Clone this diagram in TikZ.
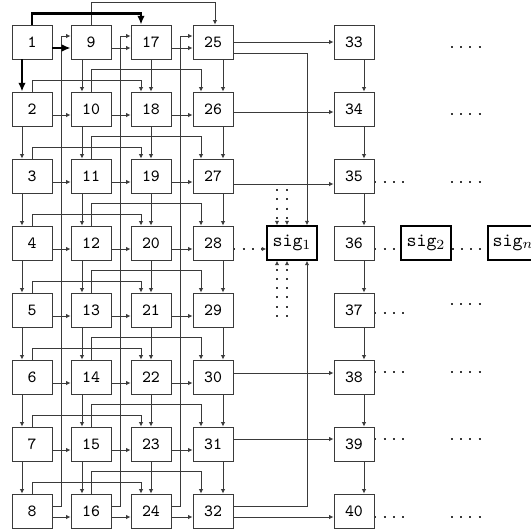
\documentclass[tikz,border=0pt]{standalone}
\usepackage{tikz}
\usetikzlibrary{arrows.meta, positioning, calc}
\definecolor{grayA}{HTML}{3A3A3A}
\tikzset{
  cell/.style={
    draw=grayA, line width=0.45pt, minimum width=20pt,
    minimum height=17pt, inner sep=0pt,
    font=\fontsize{8.5}{10}\selectfont\ttfamily
  },
  sigbox/.style={
    cell, draw=black, line width=0.75pt, minimum width=25pt,
    font=\fontsize{9.5}{12}\selectfont\ttfamily
  },
  arrow/.style={-{Latex[length=2.2pt, width=2.2pt]}, line width=0.45pt, draw=grayA},
  thickarrow/.style={-{Latex[length=4.4pt, width=3.8pt]}, line width=1.2pt},
  dotline/.style={line width=0.6pt, dash pattern=on 1pt off 3.6pt, draw=grayA},
  dotarrow/.style={dotline, -{Latex[length=2.2pt, width=2.2pt]}}
}

\begin{document}
\begin{tikzpicture}[x=0.5pt, y=-0.5pt]
  \useasboundingbox (0,0) rectangle (531,532);

  % cells, numbered down each column
  \foreach \c/\x in {1/32, 2/91, 3/151, 4/213, 5/354}
    \foreach \r in {1,...,8} {
      \pgfmathtruncatemacro\idx{8*(\c-1)+\r}
      \node[cell] (n\idx) at (\x, {42+67*(\r-1)}) {\idx};
    }
  \node[sigbox] (sig1) at (292,243) {sig$_1$};
  \node[sigbox] (sig2) at (426,243) {sig$_2$};
  \node[sigbox] (sign) at (513,243) {sig$_n$};

  % row arrows
  \foreach \r in {1,...,8} {
    \pgfmathtruncatemacro\na{\r+8}
    \pgfmathtruncatemacro\nb{\r+16}
    \pgfmathtruncatemacro\nc{\r+24}
    \ifnum\r>1
      \draw[arrow] ([yshift=-3pt]n\r.east) -- ([yshift=-3pt]n\na.west);
      \draw[arrow] (n\r.north) -- ++(0,-11) -| ([xshift=-5pt]n\nb.north);
      \draw[arrow] (n\na.north) -- ++(0,-22) -| ([xshift=-6pt]n\nc.north);
    \fi
    \draw[arrow] ([yshift=-3pt]n\na.east) -- ([yshift=-3pt]n\nb.west);
    \draw[arrow] ([yshift=-3pt]n\nb.east) -- ([yshift=-3pt]n\nc.west);
  }
  \draw[arrow] (n9.north) -- ++(0,-22) -| ([xshift=1pt]n25.north);

  % column arrows
  \foreach \c/\s in {1/-5pt, 2/-4.5pt, 3/0pt, 4/5pt, 5/5pt}
    \foreach \r in {1,...,7} {
      \pgfmathtruncatemacro\na{8*(\c-1)+\r}
      \pgfmathtruncatemacro\nb{\na+1}
      \ifnum\na>1
        \draw[arrow] ([xshift=\s]n\na.south) -- ([xshift=\s]n\nb.north);
      \fi
    }

  % feedback lanes
  \foreach \src/\dst/\lane in {8/9/61, 16/17/120, 24/25/180}
    \draw[arrow] ([yshift=2.5pt]n\src.east) -| (\lane,36) -- ([yshift=3pt]n\dst.west);

  % to the last column
  \draw[arrow] (n25.east) -- (n33.west);
  \draw[arrow] ([yshift=-1.5pt]n26.east) -- ([yshift=-1.5pt]n34.west);
  \draw[arrow] ([yshift=-4pt]n27.east) -- ([yshift=-4pt]n35.west);
  \draw[arrow] ([yshift=2pt]n30.east) -- ([yshift=2pt]n38.west);
  \draw[arrow] ([yshift=2.5pt]n31.east) -- ([yshift=2.5pt]n39.west);
  \draw[arrow] ([yshift=-3pt]n32.east) -- ([yshift=-3pt]n40.west);
  \draw[arrow] ([yshift=-5.5pt]n25.east) -| ([xshift=7.5pt]sig1.north);
  \draw[arrow] ([yshift=2.5pt]n32.east) -| ([xshift=7.5pt]sig1.south);

  % signal inputs
  \draw[dotarrow] ([yshift=-3pt]n28.east) -- ([yshift=-3pt]sig1.west);
  \foreach \s in {-7.5pt, -2.5pt} {
    \draw[dotarrow] ([xshift=\s, yshift=18pt]sig1.north) -- ([xshift=\s]sig1.north);
    \draw[dotarrow] ([xshift=\s, yshift=-28pt]sig1.south) -- ([xshift=\s]sig1.south);
  }
  \draw[dotline] ([yshift=-3pt]n36.east) -- ([yshift=-3pt]sig2.west);
  \draw[dotline] ([yshift=-3pt]sig2.east) -- ([yshift=-3pt]sign.west);

  % trailing dots
  \foreach \r/\dy/\len in {35/-3pt/34, 37/-1.5pt/36, 38/2.5pt/34, 39/2.5pt/34, 40/-3pt/34}
    \draw[dotline] ([yshift=\dy]n\r.east) -- ++(\len,0);
  \foreach \y in {47, 114, 182, 304, 372, 439, 517}
    \draw[dotline] (451,\y) -- (485,\y);

  % thick start
  \draw[thickarrow] ([yshift=-3pt]n1.east) -- ([yshift=-3pt]n9.west);
  \draw[thickarrow] ([xshift=-5pt]n1.south) -- ([xshift=-5pt]n2.north);
  \draw[thickarrow] (n1.north) -- ++(0,-11) -| ([xshift=-5pt]n17.north);
\end{tikzpicture}
\end{document}
